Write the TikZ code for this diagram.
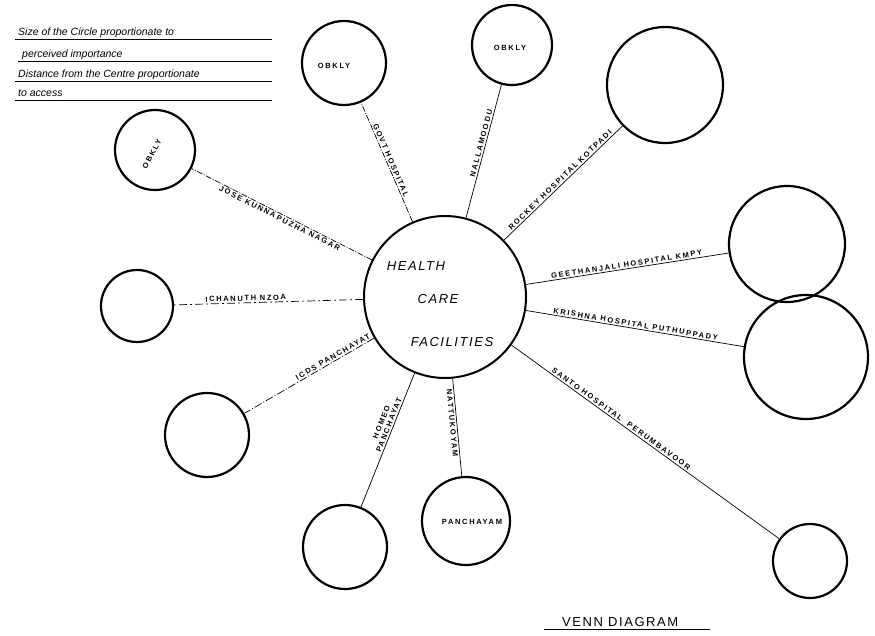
\documentclass[tikz,border=0pt]{standalone}
\usepackage{fontspec}
\setmainfont{Liberation Sans}
\newfontfamily\labfont[LetterSpace=22]{Liberation Sans}
\newfontfamily\cenfont[LetterSpace=12]{Liberation Sans}
\begin{document}
\begin{tikzpicture}[x=1pt,y=-1pt,
  sat/.style={circle,draw,line width=2.2pt,inner sep=0pt},
  conn/.style={line width=0.7pt},
  lab/.style={font=\labfont\fontsize{7.5}{8}\selectfont\bfseries, sloped, inner sep=1.5pt},
  intext/.style={font=\labfont\fontsize{7.5}{8}\selectfont\bfseries},
  cen/.style={font=\cenfont\fontsize{13}{14}\selectfont\itshape},
  leg/.style={font=\fontsize{10.5}{11}\selectfont\itshape, anchor=base west, inner sep=0pt},
  ul/.style={line width=0.9pt}]
\useasboundingbox (0,0) rectangle (875,636);
% centre
\node[sat, line width=2pt, minimum size=162pt] (c) at (445,297) {};
\node[cen] (t1) at (416,266) {HEALTH};
\node[cen] (t2) at (438,299) {CARE};
\node[cen] (t3) at (452,342) {FACILITIES};
% satellites
\node[sat, minimum size=80pt]  (s1)  at (155,150) {};
\node[sat, minimum size=84pt]  (s2)  at (344,63)  {};
\node[sat, minimum size=80pt]  (s3)  at (512,45)  {};
\node[sat, minimum size=116pt] (s4)  at (665,85)  {};
\node[sat, minimum size=116pt] (s5)  at (787,244) {};
\node[sat, minimum size=124pt] (s6)  at (806,357) {};
\node[sat, minimum size=74pt]  (s7)  at (810,561) {};
\node[sat, minimum size=88pt]  (s8)  at (466,521) {};
\node[sat, minimum size=84pt]  (s9)  at (345,547) {};
\node[sat, minimum size=84pt]  (s10) at (207,435) {};
\node[sat, minimum size=72pt]  (s11) at (137,306) {};
% texts in circles
\node[intext, rotate=62] (o1) at (152,154) {OBKLY};
\node[intext] (o2) at (334,66) {OBKLY};
\node[intext] (o3) at (510,48) {OBKLY};
\node[intext] (o8) at (472,522) {PANCHAYAM};
% connectors
\draw[conn, dash pattern=on 6pt off 1.5pt on 1pt off 1.5pt] (c) -- node[lab, below, pos=0.5] {JOSE KUNNAPUZHA NAGAR} (s1);
\draw[conn, dash pattern=on 6pt off 1.5pt on 1pt off 1.5pt] (c) -- node[lab, above, pos=0.5] {GOVT HOSPITAL} (s2);
\draw[conn] (c) -- node[lab, above, pos=0.55] {NALLAMOODU} (s3);
\draw[conn] (c) -- node[lab, above, pos=0.5] {ROCKEY HOSPITAL KOTPADI} (s4);
\draw[conn] (c) -- node[lab, above, pos=0.5] {GEETHANJALI HOSPITAL KMPY} (s5);
\draw[conn] (c) -- node[lab, above, pos=0.5] {KRISHNA HOSPITAL PUTHUPPADY} (s6);
\draw[conn] (c) -- node[lab, above, pos=0.4] {SANTO HOSPITAL\quad PERUMBAVOOR} (s7);
\draw[conn] (c) -- node[lab, below, pos=0.45] {NATTUKOYAM} (s8);
\draw[conn] (c) -- node[lab, above, pos=0.4, align=center] {HOMEO\\PANCHAYAT} (s9);
\draw[conn, dash pattern=on 8pt off 2pt on 1pt off 2pt] (c) -- node[lab, above, pos=0.3] {ICDS PANCHAYAT} (s10);
\draw[conn, dash pattern=on 8pt off 3pt on 2pt off 3pt] (c) -- node[lab, above, pos=0.62] {ICHANUTH NZOA} (s11);
% legend
\node[leg] (l1) at (18,36) {Size of the Circle proportionate to};
\node[leg] (l2) at (22,58) {perceived importance};
\node[leg] (l3) at (18,78) {Distance from the Centre proportionate};
\node[leg] (l4) at (18,97) {to access};
\draw[ul] (15,39) -- (272,39);
\draw[ul] (18,61) -- (272,61);
\draw[ul] (15,81) -- (272,81);
\draw[ul] (15,100) -- (272,100);
% title
\node[font=\cenfont\fontsize{13}{14}\selectfont, anchor=base west, inner sep=0pt] (tt) at (562,626) {VENN DIAGRAM};
\draw[ul] (544,629) -- (710,629);
\end{tikzpicture}
\end{document}
